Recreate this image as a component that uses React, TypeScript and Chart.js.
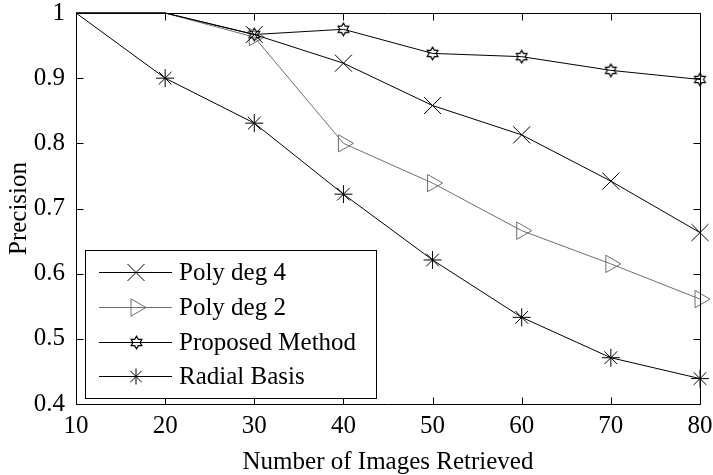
import React, { useEffect, useRef } from 'react';
import { Chart, registerables } from 'chart.js';

Chart.register(...registerables);

// ---- data ----
const xValues = [10, 20, 30, 40, 50, 60, 70, 80];
const polyDeg4 = [1, 1, 0.967, 0.923, 0.858, 0.813, 0.742, 0.663];
const polyDeg2 = [1, 1, 0.963, 0.8, 0.739, 0.666, 0.615, 0.561];
const proposedMethod = [1, 1, 0.967, 0.975, 0.938, 0.933, 0.912, 0.898];
const radialBasis = [1.0, 0.9, 0.831, 0.722, 0.621, 0.533, 0.471, 0.439];
const seriesLabels = ['Poly deg 4', 'Poly deg 2', 'Proposed Method', 'Radial Basis'];
const xTicks = [10, 20, 30, 40, 50, 60, 70, 80];
const yTicks = [0.4, 0.5, 0.6, 0.7, 0.8, 0.9, 1];
const xTitle = 'Number of Images Retrieved';
const yTitle = 'Precision';

const FONT = "'Liberation Serif', 'Times New Roman', serif";
const GRAY = '#6e6e6e';

function makeHexagram(): HTMLCanvasElement {
  const c = document.createElement('canvas');
  c.width = 15;
  c.height = 15;
  const g = c.getContext('2d')!;
  g.strokeStyle = '#000';
  g.lineWidth = 1.2;
  g.beginPath();
  for (let i = 0; i < 12; i++) {
    const r = i % 2 === 0 ? 6.2 : 3.6;
    const a = (Math.PI / 6) * i - Math.PI / 2;
    const px = 7.5 + r * Math.cos(a);
    const py = 7.5 + r * Math.sin(a);
    if (i === 0) g.moveTo(px, py);
    else g.lineTo(px, py);
  }
  g.closePath();
  g.stroke();
  return c;
}

function drawLegendMarker(ctx: CanvasRenderingContext2D, kind: string, x: number, y: number, hex: HTMLCanvasElement, color: string) {
  ctx.save();
  ctx.strokeStyle = color;
  ctx.lineWidth = 1;
  ctx.beginPath();
  if (kind === 'x') {
    const d = 8.5;
    ctx.moveTo(x - d, y - d);
    ctx.lineTo(x + d, y + d);
    ctx.moveTo(x - d, y + d);
    ctx.lineTo(x + d, y - d);
    ctx.stroke();
  } else if (kind === 'tri') {
    const r = 10;
    ctx.moveTo(x + r, y);
    ctx.lineTo(x - r / 2, y - r * 0.866);
    ctx.lineTo(x - r / 2, y + r * 0.866);
    ctx.closePath();
    ctx.stroke();
  } else if (kind === 'hex') {
    ctx.drawImage(hex, Math.round(x - hex.width / 2), Math.round(y - hex.height / 2));
  } else {
    const r = 8;
    const d = r * 0.707;
    ctx.moveTo(x - r, y);
    ctx.lineTo(x + r, y);
    ctx.moveTo(x, y - r);
    ctx.lineTo(x, y + r);
    ctx.moveTo(x - d, y - d);
    ctx.lineTo(x + d, y + d);
    ctx.moveTo(x - d, y + d);
    ctx.lineTo(x + d, y - d);
    ctx.stroke();
  }
  ctx.restore();
}

export default function App() {
  const canvasRef = useRef<HTMLCanvasElement | null>(null);

  useEffect(() => {
    document.body.style.margin = '0';
    const canvas = canvasRef.current;
    if (!canvas) return;
    const hex = makeHexagram();
    const markerKinds = ['x', 'tri', 'hex', 'star'];
    const colors = ['#000', GRAY, '#000', '#000'];

    const framePlugin = {
      id: 'frame',
      afterDatasetsDraw(chart: any) {
        const { ctx, chartArea, scales } = chart;
        const { left, right, top, bottom } = chartArea;
        const L = Math.round(left) + 0.5;
        const R = Math.round(right) + 0.5;
        const T = Math.round(top) + 0.5;
        const B = Math.round(bottom) + 0.5;
        ctx.save();
        ctx.strokeStyle = '#000';
        ctx.lineWidth = 1;
        ctx.beginPath();
        ctx.rect(L, T, R - L, B - T);
        const tl = 7;
        xTicks.forEach((v) => {
          const px = Math.round(scales.x.getPixelForValue(v)) + 0.5;
          ctx.moveTo(px, B);
          ctx.lineTo(px, B - tl);
          ctx.moveTo(px, T);
          ctx.lineTo(px, T + tl);
        });
        yTicks.forEach((v) => {
          const py = Math.round(scales.y.getPixelForValue(v)) + 0.5;
          ctx.moveTo(L, py);
          ctx.lineTo(L + tl, py);
          ctx.moveTo(R, py);
          ctx.lineTo(R - tl, py);
        });
        ctx.stroke();

        // legend
        const bx = 85.5, by = 250.5, bw = 291, bh = 148;
        ctx.fillStyle = '#fff';
        ctx.fillRect(bx, by, bw, bh);
        ctx.strokeStyle = '#000';
        ctx.strokeRect(bx, by, bw, bh);
        const rows = [272, 307, 342, 376];
        ctx.font = `25px ${FONT}`;
        ctx.textBaseline = 'middle';
        ctx.textAlign = 'left';
        seriesLabels.forEach((label, i) => {
          const ry = rows[i] + 0.5;
          ctx.strokeStyle = colors[i];
          ctx.beginPath();
          ctx.moveTo(99, ry);
          ctx.lineTo(172, ry);
          ctx.stroke();
          drawLegendMarker(ctx, markerKinds[i], 136, ry, hex, colors[i]);
          ctx.fillStyle = '#000';
          ctx.fillText(label, 179, rows[i] + 1);
        });
        ctx.restore();
      },
    };

    const mk = (label: string, values: number[], color: string, style: any, radius: number, rotation = 0) => ({
      label,
      data: xValues.map((x, i) => ({ x, y: values[i] })),
      borderColor: color,
      backgroundColor: 'rgba(0,0,0,0)',
      pointBorderColor: color,
      pointBackgroundColor: 'rgba(0,0,0,0)',
      borderWidth: 1,
      pointBorderWidth: 1,
      pointStyle: style,
      pointRotation: rotation,
      pointRadius: (ctx: any) => {
        const v = ctx.raw && typeof ctx.raw === 'object' ? ctx.raw.y : ctx.raw;
        return v !== undefined && v >= 1 ? 0 : radius;
      },
      tension: 0,
      clip: false as any,
    });

    const chart = new Chart(canvas, {
      type: 'line',
      data: {
        datasets: [
          mk(seriesLabels[0], polyDeg4, '#000', 'crossRot', 12),
          mk(seriesLabels[1], polyDeg2, GRAY, 'triangle', 10, 90),
          mk(seriesLabels[2], proposedMethod, '#000', hex, 7),
          mk(seriesLabels[3], radialBasis, '#000', 'star', 9),
        ] as any,
      },
      options: {
        responsive: false,
        animation: false,
        events: [],
        layout: { padding: { top: 11, right: 13, left: 0, bottom: 0 } },
        plugins: {
          legend: { display: false },
          tooltip: { enabled: false },
        },
        scales: {
          x: {
            type: 'linear',
            min: 10,
            max: 80,
            grid: { display: false, drawTicks: false },
            border: { display: false },
            ticks: {
              color: '#000',
              font: { family: FONT, size: 25, lineHeight: 1.2 },
              padding: 7,
              maxRotation: 0,
              autoSkip: false,
            },
            afterBuildTicks: (s: any) => {
              s.ticks = xTicks.map((v) => ({ value: v }));
            },
            title: {
              display: true,
              text: xTitle,
              color: '#000',
              font: { family: FONT, size: 25, lineHeight: 1 },
              padding: { top: 0, bottom: 0 },
            },
            afterFit: (s: any) => {
              s.height = 71;
              s.paddingLeft = 0;
              s.paddingRight = 0;
            },
          },
          y: {
            type: 'linear',
            min: 0.4,
            max: 1,
            grid: { display: false, drawTicks: false },
            border: { display: false },
            ticks: {
              color: '#000',
              font: { family: FONT, size: 25, lineHeight: 0.8 },
              padding: 11,
              callback: (v: any) => String(parseFloat(Number(v).toFixed(1))),
            },
            afterBuildTicks: (s: any) => {
              s.ticks = yTicks.map((v) => ({ value: v }));
            },
            title: {
              display: true,
              text: yTitle,
              color: '#000',
              font: { family: FONT, size: 25, lineHeight: 1 },
              padding: { top: 7, bottom: 0 },
            },
            afterFit: (s: any) => {
              s.width = 76;
              s.paddingTop = 0;
              s.paddingBottom = 0;
            },
          },
        },
      },
      plugins: [framePlugin],
    });

    return () => chart.destroy();
  }, []);

  return (
    <div style={{ width: 713, height: 475, background: '#fff' }}>
      <canvas ref={canvasRef} width={713} height={475} style={{ display: 'block' }} />
    </div>
  );
}
